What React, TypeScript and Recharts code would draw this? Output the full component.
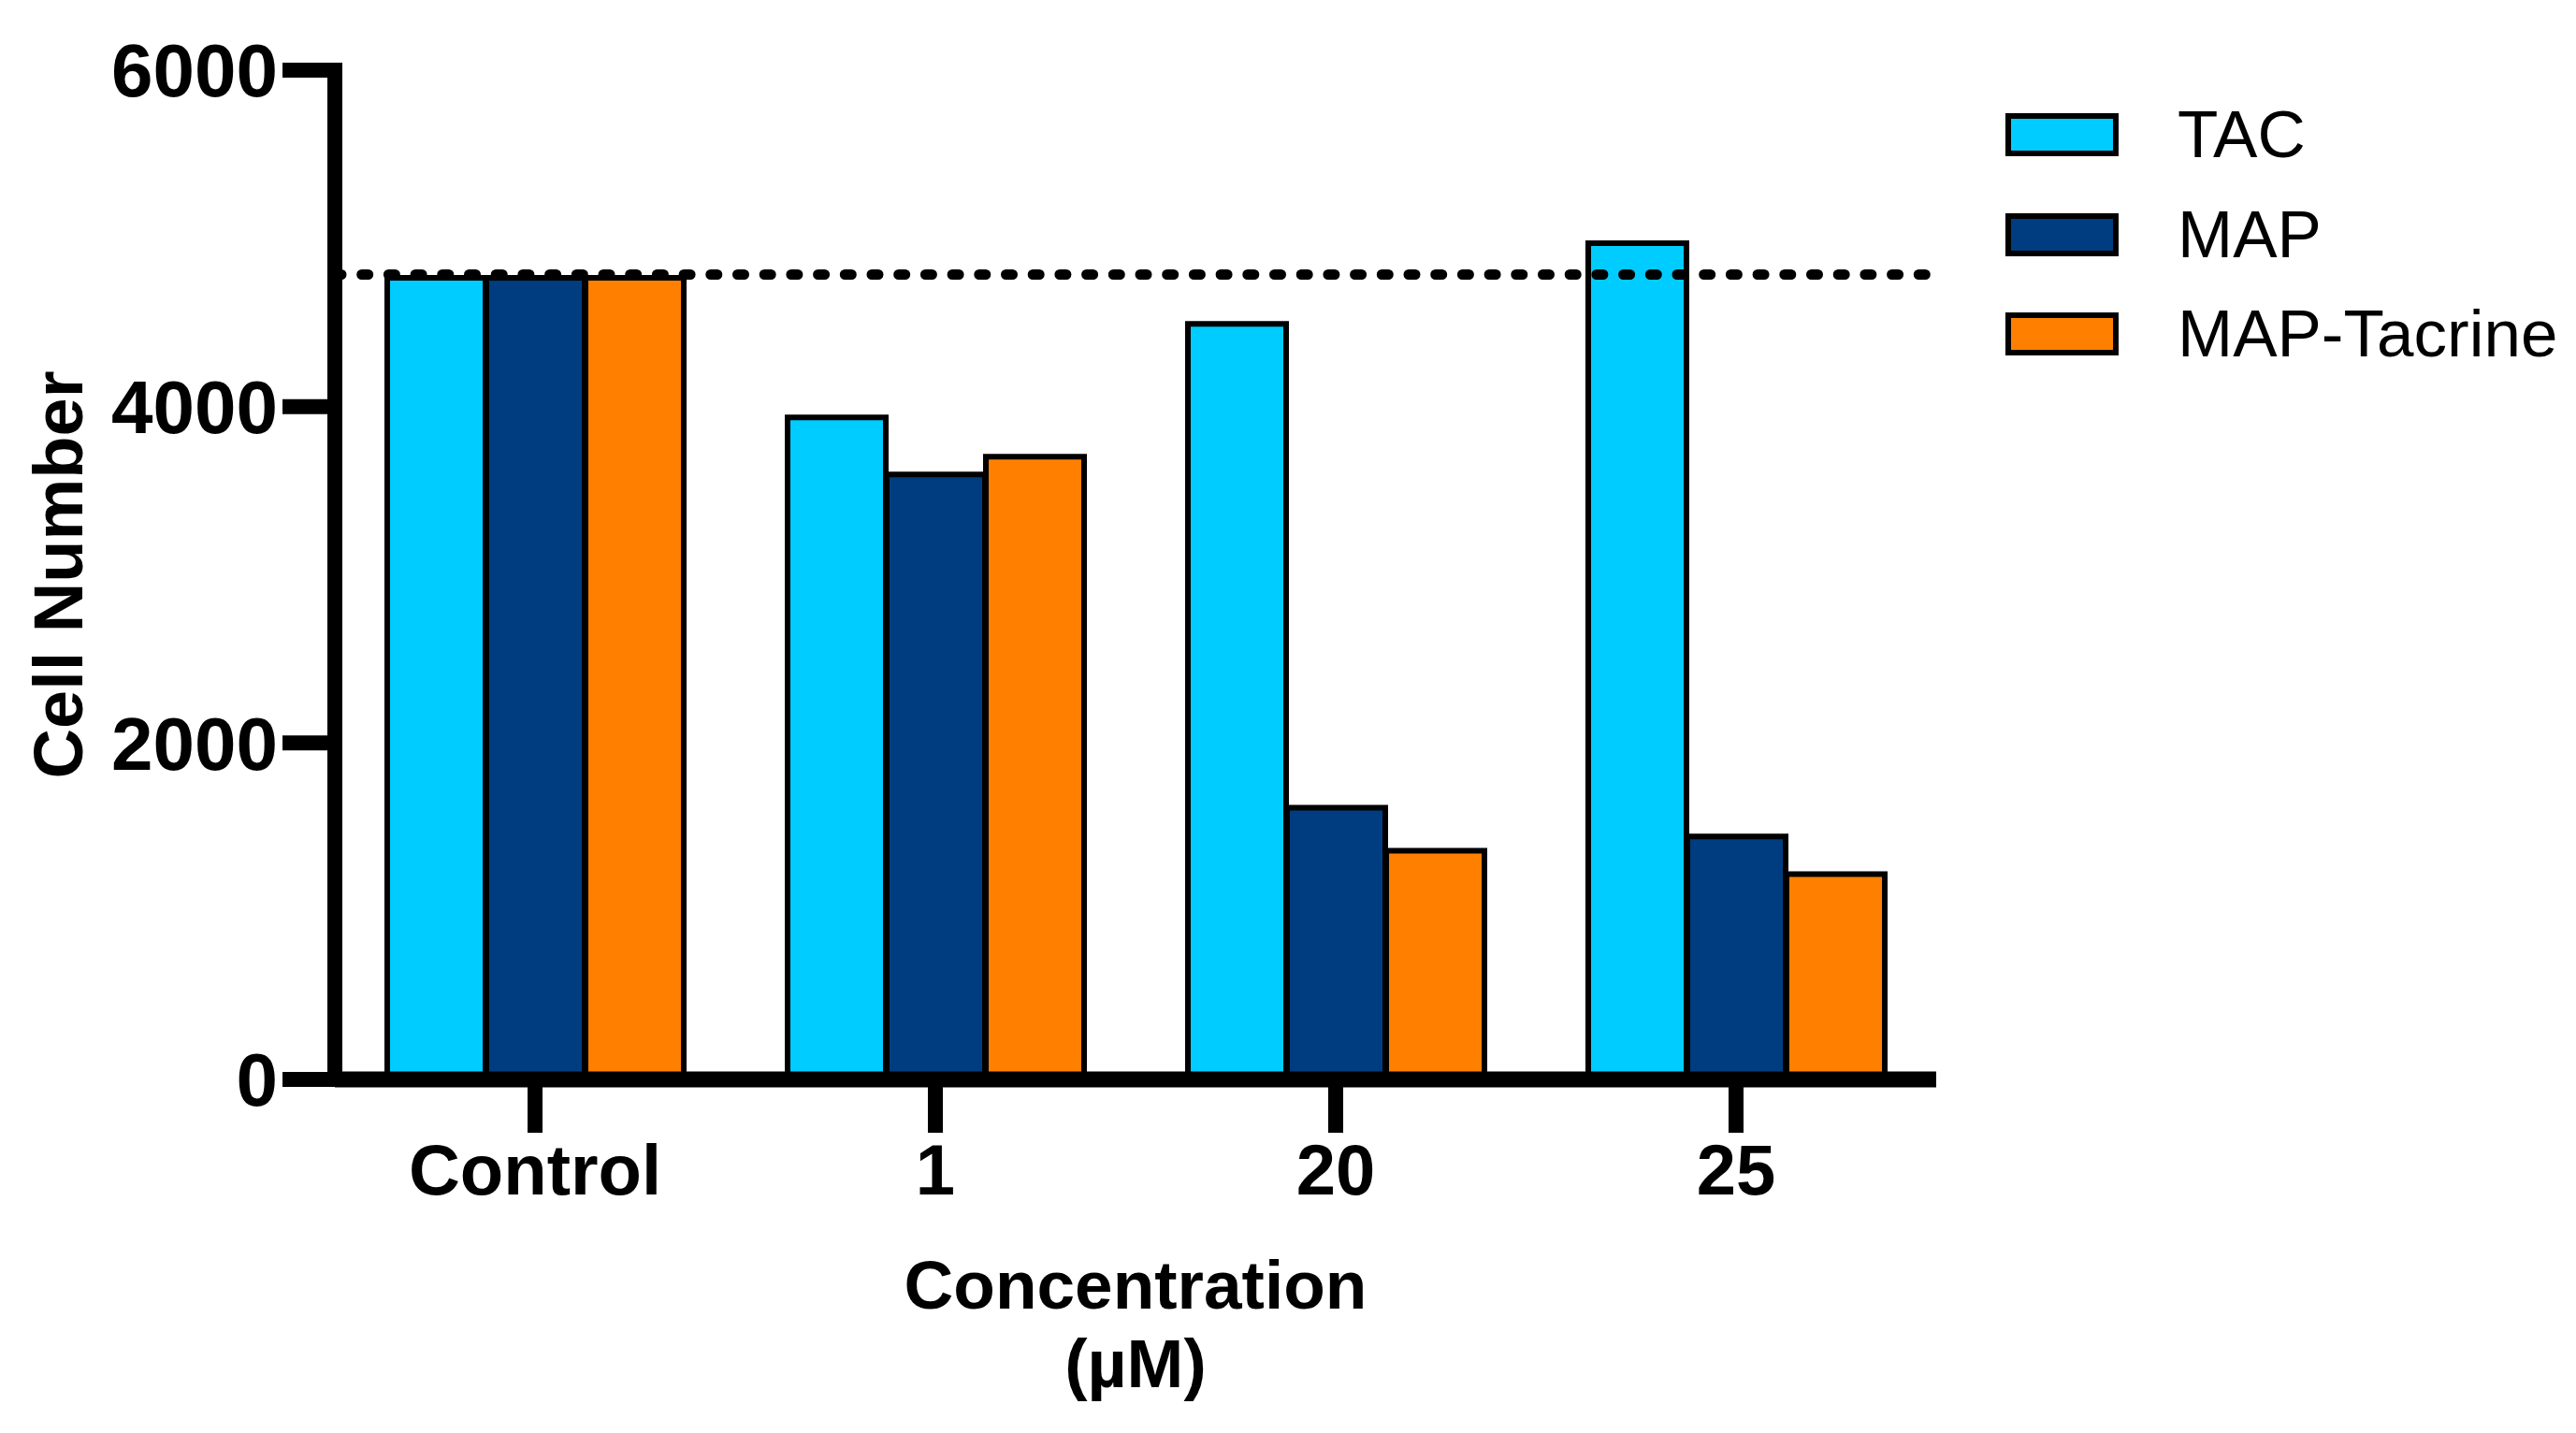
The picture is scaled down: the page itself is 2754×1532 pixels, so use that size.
import React from 'react';
import { BarChart, Bar, XAxis, YAxis, ReferenceLine, Legend } from 'recharts';

const categories = ['Control', '1', '20', '25'];
const tacValues = [4765, 3936, 4492, 4971];
const mapValues = [4765, 3597, 1616, 1444];
const mapTacrineValues = [4765, 3702, 1360, 1221];
const yTicks = [0, 2000, 4000, 6000];
const controlLevel = 4785;
const seriesNames = ['TAC', 'MAP', 'MAP-Tacrine'];
const seriesColors = ['#00CCFF', '#003D80', '#FF8000'];

const seriesValues = [tacValues, mapValues, mapTacrineValues];
const data = categories.map((c, i) => {
  const row: Record<string, string | number> = { name: c };
  seriesNames.forEach((s, k) => {
    row[s] = seriesValues[k][i];
  });
  return row;
});

const FONT = '"Liberation Sans", Arial, Helvetica, sans-serif';

const XTitle = (props: any) => {
  const vb = props.viewBox || { x: 358, y: 1154, width: 1712, height: 378 };
  const cx = vb.x + vb.width / 2;
  return (
    <text x={cx} y={vb.y + 245} textAnchor="middle" fontFamily={FONT} fontWeight={700} fontSize={73} fill="#000">
      <tspan x={cx} y={vb.y + 245}>Concentration</tspan>
      <tspan x={cx} y={vb.y + 329}>(µM)</tspan>
    </text>
  );
};

const YTitle = (props: any) => {
  const vb = props.viewBox || { x: 0, y: 75, width: 358, height: 1079 };
  const cy = vb.y + vb.height / 2;
  const x = 88;
  return (
    <text
      x={x}
      y={cy}
      textAnchor="middle"
      transform={`rotate(-90, ${x}, ${cy})`}
      fontFamily={FONT}
      fontWeight={700}
      fontSize={74}
      fill="#000"
    >
      Cell Number
    </text>
  );
};

const renderLegend = () => (
  <div style={{ fontFamily: FONT }}>
    {seriesNames.map((s, i) => (
      <div key={s} style={{ display: 'flex', alignItems: 'center', height: 106.5 }}>
        <div
          style={{
            width: 121,
            height: 46,
            boxSizing: 'border-box',
            border: '6px solid #000',
            background: seriesColors[i],
          }}
        />
        <span style={{ marginLeft: 63, fontSize: 71, color: '#000', lineHeight: '80px', whiteSpace: 'nowrap' }}>{s}</span>
      </div>
    ))}
  </div>
);

export default function App() {
  return (
    <div style={{ position: 'absolute', left: 0, top: 0, width: 2754, height: 1532, background: '#fff' }}>
      <BarChart
        width={2754}
        height={1532}
        data={data}
        margin={{ top: 75, right: 684, bottom: 0, left: 0 }}
        barCategoryGap={56}
        barGap={1}
        style={{ fontFamily: FONT }}
      >
        <XAxis
          dataKey="name"
          height={378}
          tickSize={57}
          tickMargin={12}
          axisLine={{ stroke: '#000', strokeWidth: 17 }}
          tickLine={{ stroke: '#000', strokeWidth: 16 }}
          tick={{ fontSize: 76, fontWeight: 700, fill: '#000', fontFamily: FONT }}
          interval={0}
          label={XTitle}
        />
        <YAxis
          type="number"
          domain={[0, 6000]}
          ticks={yTicks}
          interval={0}
          width={358}
          tickSize={56}
          tickMargin={5}
          axisLine={{ stroke: '#000', strokeWidth: 16, strokeLinecap: 'square' }}
          tickLine={{ stroke: '#000', strokeWidth: 16 }}
          tick={{ fontSize: 80, fontWeight: 700, fill: '#000', fontFamily: FONT }}
          label={YTitle}
        />
        <ReferenceLine
          y={controlLevel}
          stroke="#000"
          strokeWidth={11}
          strokeDasharray="7 21.7"
          strokeLinecap="round"
        />
        {seriesNames.map((s, i) => (
          <Bar key={s} dataKey={s} fill={seriesColors[i]} stroke="#000" strokeWidth={6} isAnimationActive={false} />
        ))}
        <Legend
          content={renderLegend}
          layout="vertical"
          align="center"
          verticalAlign="middle"
          wrapperStyle={{ position: 'absolute', left: 2144, top: 91, width: 610, height: 320 }}
        />
      </BarChart>
    </div>
  );
}
